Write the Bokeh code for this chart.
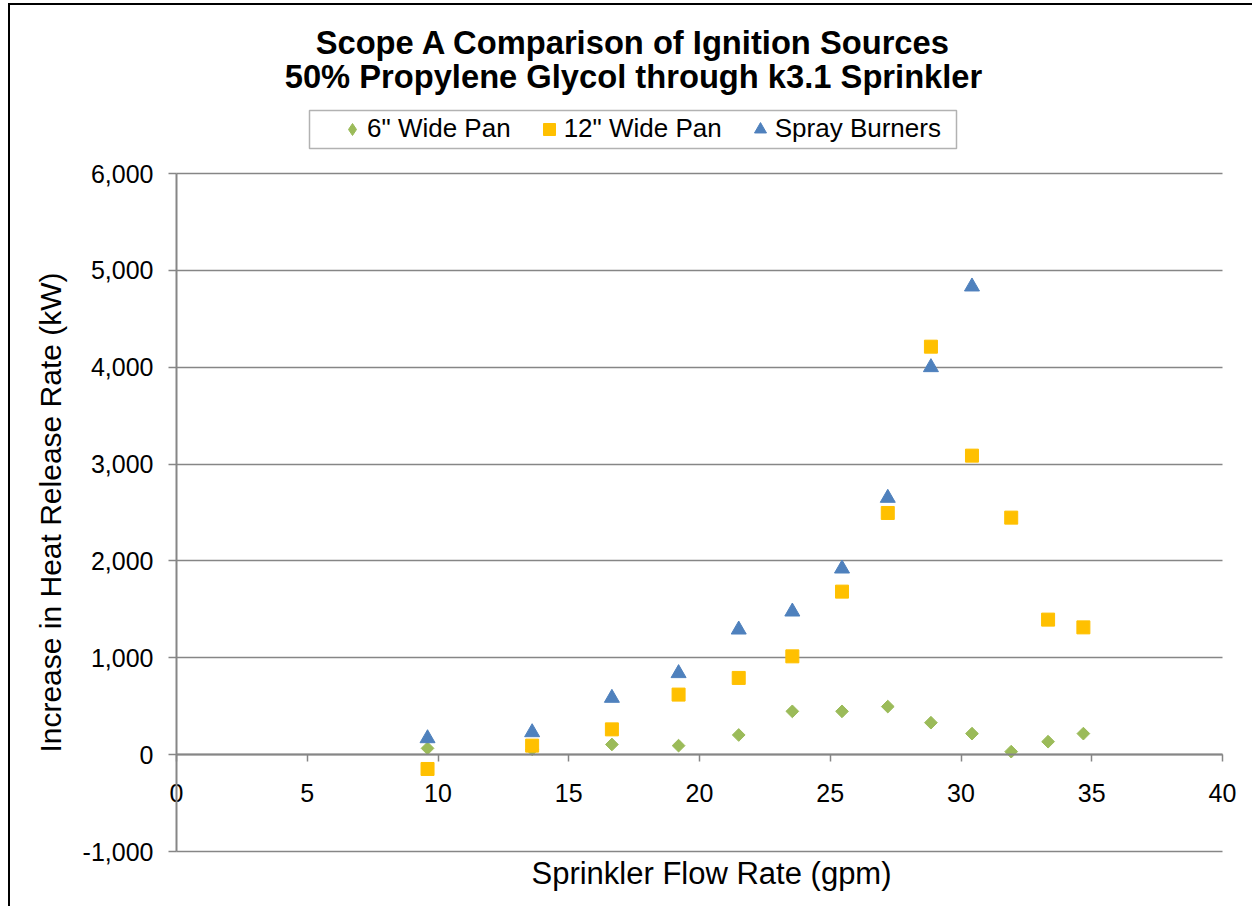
import math
from bokeh.plotting import figure
from bokeh.models import (Range1d, Legend, LegendItem, Label, NumeralTickFormatter,
                          FixedTicker, Grid, BoxAnnotation)
from bokeh.embed import file_html
from bokeh.resources import INLINE

# ---- data ----
flow = [9.6, 13.6, 16.65, 19.2, 21.5, 23.55, 25.45, 27.2, 28.85, 30.42, 31.92, 33.33, 34.68]
pan6 = [65, 55, 105, 93, 203, 447, 447, 496, 330, 217, 31, 134, 217]
pan12 = [-148, 93, 261, 620, 792, 1015, 1683, 2495, 4212, 3087, 2447, 1394, 1314]
flow_spray = [9.6, 13.6, 16.65, 19.2, 21.5, 23.55, 25.45, 27.2, 28.85, 30.42]
spray = [168, 230, 585, 840, 1290, 1476, 1920, 2650, 3999, 4832]

series_names = ['6" Wide Pan', '12" Wide Pan', 'Spray Burners']
title_lines = ["Scope A Comparison of Ignition Sources",
               "50% Propylene Glycol through k3.1 Sprinkler"]
x_title = "Sprinkler Flow Rate (gpm)"
y_title = "Increase in Heat Release Rate (kW)"
x_ticks = [0, 5, 10, 15, 20, 25, 30, 35, 40]
y_ticks = [-1000, 0, 1000, 2000, 3000, 4000, 5000, 6000]
x_lim = (0, 40)
y_lim = (-1000, 6000)

FONT = "Liberation Sans"
GRID = "#868686"
GREEN, GOLD, BLUE = "#9BBB59", "#FFC000", "#4F81BD"

# ---- geometry (canvas pixels) ----
W, H = 1244, 903
PX0, PY0 = 10, 5           # canvas origin on the page
FL, FR, FT, FB = 176, 1222, 173, 851   # plot-area box on the page
sx = (FR - FL) / (x_lim[1] - x_lim[0])
sy = (FB - FT) / (y_lim[1] - y_lim[0])
x_range = Range1d(x_lim[0] - (FL - PX0) / sx, x_lim[1] + (PX0 + W - FR) / sx)
y_range = Range1d(y_lim[0] - (PY0 + H - FB) / sy, y_lim[1] + (FT - PY0) / sy)


def scr(px, py):
    return px - PX0, (PY0 + H) - py


p = figure(width=W, height=H, output_backend="svg", toolbar_location=None,
           x_range=x_range, y_range=y_range, min_border=0)
p.styles = {"margin-left": "8px", "margin-top": "3px",
            "border-left": "2px solid #000", "border-top": "2px solid #000"}
p.outline_line_color = None
p.background_fill_color = "white"
p.border_fill_color = "white"

# grid
p.xgrid.visible = False
yg = p.ygrid[0]
yg.ticker = FixedTicker(ticks=y_ticks)
yg.grid_line_color = GRID
yg.grid_line_width = 1.5
if "cross_bounds" in Grid.properties():
    yg.cross_bounds = x_lim
else:
    yg.visible = False
    p.segment(x0=x_lim[0], x1=x_lim[1], y0=y_ticks, y1=y_ticks,
              line_color=GRID, line_width=1.5)

# y axis at x = 0
ya = p.yaxis[0]
ya.fixed_location = 0
ya.bounds = y_lim
ya.ticker = FixedTicker(ticks=y_ticks)
ya.formatter = NumeralTickFormatter(format="0,0")
ya.axis_line_color = GRID
ya.axis_line_width = 2
ya.major_tick_line_color = GRID
ya.major_tick_line_width = 1.5
ya.major_tick_out = 8
ya.major_tick_in = 0
ya.minor_tick_line_color = None
ya.major_label_text_font = FONT
ya.major_label_text_font_size = "25px"
ya.major_label_text_color = "#000"
ya.major_label_standoff = 15

# x axis at y = 0
xa = p.xaxis[0]
xa.fixed_location = 0
xa.bounds = x_lim
xa.ticker = FixedTicker(ticks=x_ticks)
xa.axis_line_color = GRID
xa.axis_line_width = 2
xa.major_tick_line_color = GRID
xa.major_tick_line_width = 1.5
xa.major_tick_out = 7
xa.major_tick_in = 0
xa.minor_tick_line_color = None
xa.major_label_text_font = FONT
xa.major_label_text_font_size = "25px"
xa.major_label_text_color = "#000"
xa.major_label_standoff = 22

# series
r1 = p.scatter(flow, pan6, marker="square", angle=math.pi / 4, size=9,
               fill_color=GREEN, line_color=GREEN)
r2 = p.scatter(flow, pan12, marker="square", size=13,
               fill_color=GOLD, line_color=GOLD)
r3 = p.scatter(flow_spray, spray, marker="triangle", size=15,
               fill_color=BLUE, line_color=BLUE)
# hidden twin of the 6" series, used only for its diamond legend swatch
r1_key = p.scatter(flow, pan6, marker="diamond", size=13,
                   fill_color=GREEN, line_color=GREEN, visible=False)

# legend box
bl, bt = scr(309, 110)
br, bb = scr(956, 148)
p.add_layout(BoxAnnotation(left=bl, right=br, top=bt, bottom=bb,
                           left_units="screen", right_units="screen",
                           top_units="screen", bottom_units="screen",
                           fill_color="white", fill_alpha=1.0,
                           line_color="#000", line_width=1.5, level="annotation"))

legend = Legend(items=[LegendItem(label=series_names[0], renderers=[r1_key]),
                       LegendItem(label=series_names[1], renderers=[r2]),
                       LegendItem(label=series_names[2], renderers=[r3])],
                orientation="horizontal", location=scr(337, 144),
                label_text_font=FONT, label_text_font_size="26px",
                label_text_color="#000",
                label_standoff=0, glyph_width=30, glyph_height=30, label_height=30,
                spacing=23, padding=0, margin=0,
                inactive_fill_alpha=0.0,
                border_line_color=None, background_fill_alpha=0.0)
p.add_layout(legend, "center")

# titles
for txt, yc in zip(title_lines, [42, 76]):
    x, y = scr(633, yc)
    p.add_layout(Label(x=x, y=y, x_units="screen", y_units="screen",
                       text=txt, text_align="center", text_baseline="middle",
                       text_font=FONT, text_font_size="32.7px", text_font_style="bold",
                       text_color="#000"))

x, y = scr(711, 873)
p.add_layout(Label(x=x, y=y, x_units="screen", y_units="screen",
                   text=x_title, text_align="center", text_baseline="middle",
                   text_font=FONT, text_font_size="31px", text_color="#000"))
x, y = scr(50, (FT + FB) / 2)
p.add_layout(Label(x=x, y=y, x_units="screen", y_units="screen",
                   text=y_title, text_align="center", text_baseline="middle",
                   angle=math.pi / 2,
                   text_font=FONT, text_font_size="30px", text_color="#000"))

open("out.html", "w").write(file_html(p, INLINE))
